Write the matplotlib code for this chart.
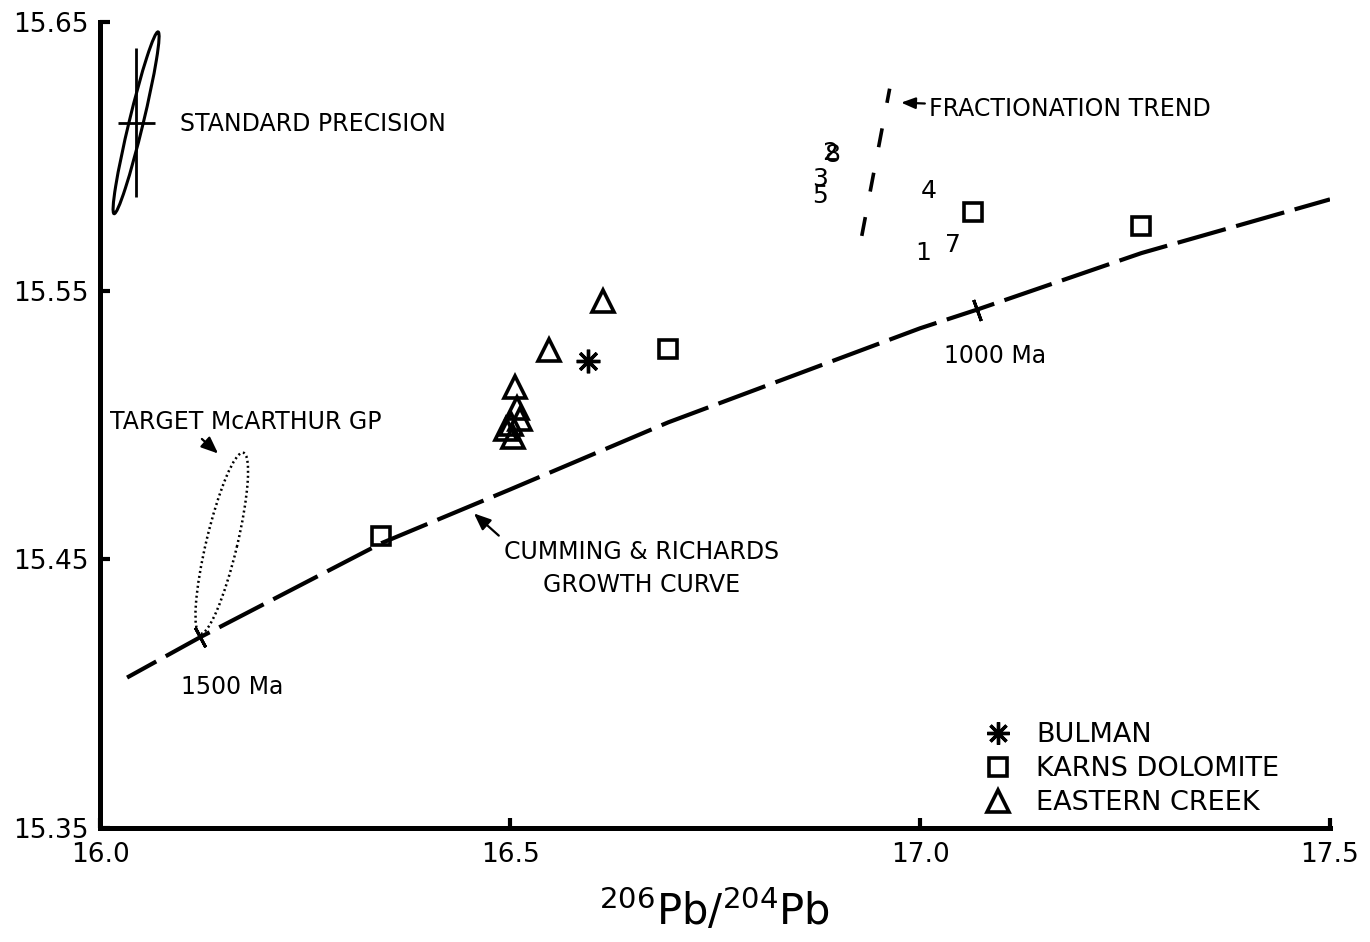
import numpy as np
import matplotlib
matplotlib.use('Agg')
import matplotlib.pyplot as plt
from matplotlib.patches import Ellipse
from matplotlib.transforms import ScaledTranslation

plt.rcParams['font.family'] = ['DejaVu Sans']

# Cumming & Richards growth curve
curve_x = [16.033, 16.122, 16.343, 16.5, 16.693, 17.0, 17.07, 17.27, 17.5]
curve_y = [15.406, 15.421, 15.456, 15.476, 15.501, 15.536, 15.543, 15.564, 15.584]

# model ages marked on the curve
age_labels = ['1500 Ma', '1000 Ma']
age_x = [16.122, 17.070]
age_y = [15.421, 15.543]

# sample groups
bulman_x = [16.595]
bulman_y = [15.524]

karns_x = [16.343, 16.693, 17.065, 17.270]
karns_y = [15.4586, 15.5284, 15.5794, 15.5742]

eastern_x = [16.614, 16.548, 16.506, 16.509, 16.512, 16.501, 16.495, 16.504]
eastern_y = [15.546, 15.528, 15.514, 15.5065, 15.5024, 15.5002, 15.4987, 15.4954]

# numbered samples
num_labels = ['1', '7', '4', '3', '5', '2', '8']
num_x = [17.004, 17.040, 17.011, 16.878, 16.878, 16.891, 16.893]
num_y = [15.5641, 15.5671, 15.5872, 15.5916, 15.5853, 15.6012, 15.6006]

# fractionation trend
frac_x = [16.929, 16.963]
frac_y = [15.5704, 15.6252]

# standard precision (2 sigma cross)
sp_x, sp_y = 16.044, 15.6125
sp_xerr, sp_yerr = 0.0226, 0.0277

# target McArthur Gp field centre
mc_x, mc_y = 16.1485, 15.456

fig = plt.figure(figsize=(13.7, 9.42), dpi=100)
ax = fig.add_axes([0.073, 0.121, 0.8978, 0.8556])

# growth curve
ax.plot(curve_x, curve_y, color='black', lw=3, ls=(4, (12, 2.6)), dash_capstyle='butt')
ax.plot(age_x[0], age_y[0], marker=(2, 2, 28), ms=16, mew=2.2, color='black', ls='none')
ax.plot(age_x[1], age_y[1], marker=(2, 2, 20), ms=16, mew=2.2, color='black', ls='none')
ax.text(16.161, 15.4024, age_labels[0], fontsize=17, ha='center', va='center')
ax.text(17.0917, 15.5258, age_labels[1], fontsize=17, ha='center', va='center')

# fractionation trend
ax.plot(frac_x, frac_y, color='black', lw=2.6, ls=(0, (5.3, 7.2)), dash_capstyle='butt')
ax.annotate('FRACTIONATION TREND', xy=(16.977, 15.6200), xytext=(17.011, 15.6177),
            fontsize=17, ha='left', va='center',
            arrowprops=dict(arrowstyle='-|>,head_length=0.5,head_width=0.2', lw=1.6,
                            color='black', shrinkA=1, shrinkB=0))

# samples
ax.plot(bulman_x, bulman_y, ls='none', marker=(8, 2, 0), ms=17, mew=2.4, color='black',
        label='BULMAN')
ax.plot(karns_x, karns_y, ls='none', marker='s', ms=13, mew=2.6, mfc='none', color='black',
        label='KARNS DOLOMITE')
ax.plot(eastern_x, eastern_y, ls='none', marker='^', ms=16, mew=2.6, mfc='none', color='black',
        label='EASTERN CREEK')

for lab, x, y in zip(num_labels, num_x, num_y):
    ax.text(x, y, lab, fontsize=18, ha='center', va='center')

# standard precision
ax.errorbar(sp_x, sp_y, xerr=sp_xerr, yerr=sp_yerr, fmt='none', ecolor='black', elinewidth=2,
            capsize=0)
tr = fig.dpi_scale_trans + ScaledTranslation(sp_x, sp_y, ax.transData)
ax.add_patch(Ellipse((0, 0), 1.87, 0.14, angle=76.4, transform=tr, fill=False,
                     ec='black', lw=2.2))
ax.text(16.0978, 15.612, 'STANDARD PRECISION', fontsize=17, ha='left', va='center')

# target McArthur Gp
tr2 = fig.dpi_scale_trans + ScaledTranslation(mc_x, mc_y, ax.transData)
ax.add_patch(Ellipse((0, 0), 1.86, 0.31, angle=76.6, transform=tr2, fill=False,
                     ec='black', lw=1.8, ls=(0, (0.8, 1.2))))
ax.annotate('TARGET McARTHUR GP', xy=(16.144, 15.4894), xytext=(16.012, 15.501),
            fontsize=17, ha='left', va='center',
            arrowprops=dict(arrowstyle='-|>,head_length=0.6,head_width=0.25', lw=1.6,
                            color='black', relpos=(0.32, 0), shrinkA=2, shrinkB=0))

ax.annotate('CUMMING & RICHARDS\nGROWTH CURVE', xy=(16.456, 15.4671), xytext=(16.660, 15.4467),
            fontsize=17, ha='center', va='center', multialignment='center', linespacing=1.45,
            arrowprops=dict(arrowstyle='-|>,head_length=0.6,head_width=0.25', lw=1.6,
                            color='black', relpos=(0, 1), shrinkA=2, shrinkB=0))

ax.set_xlim(16.0, 17.5)
ax.set_ylim(15.35, 15.65)
ax.set_xticks([16.0, 16.5, 17.0, 17.5])
ax.set_xticklabels(['16.0', '16.5', '17.0', '17.5'])
ax.set_yticks([15.35, 15.45, 15.55, 15.65])
ax.set_yticklabels(['15.35', '15.45', '15.55', '15.65'])
ax.tick_params(direction='in', length=7, width=3, labelsize=19)
ax.tick_params(axis='x', pad=10)
ax.tick_params(axis='y', pad=8)
for s in ['top', 'right']:
    ax.spines[s].set_visible(False)
for s in ['left', 'bottom']:
    ax.spines[s].set_linewidth(3.6)
    ax.spines[s].set_capstyle('projecting')

ax.set_xlabel(r'$^{\mathregular{206}}$Pb/$^{\mathregular{204}}$Pb', fontsize=30, labelpad=14)

ax.legend(loc='upper left', bbox_to_anchor=(982 / 1370, 1 - 722 / 942), bbox_transform=fig.transFigure,
          frameon=False, fontsize=19.5, handlelength=1.2, handletextpad=0.8, labelspacing=0.3,
          borderpad=0, borderaxespad=0, markerscale=0.95)

plt.savefig('out.png', dpi=100)
